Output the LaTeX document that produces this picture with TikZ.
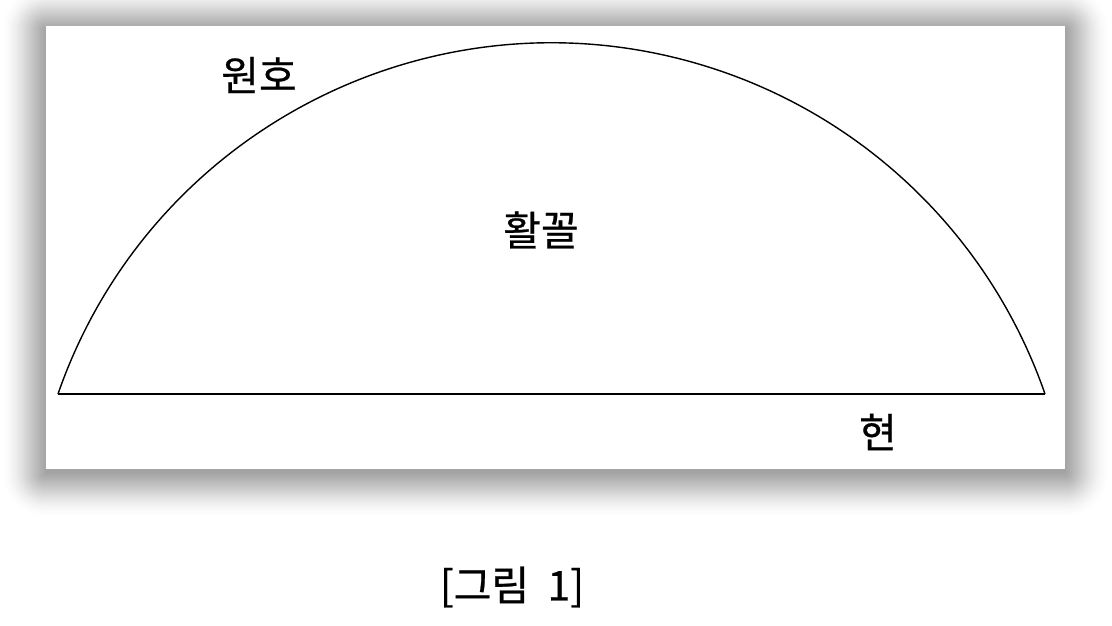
\documentclass[tikz,border=0pt]{standalone}
\usepackage{fontspec}
\newfontfamily\kr[FakeBold=0.6]{Noto Sans CJK KR}
\begin{document}
\begin{tikzpicture}[x=1pt,y=1pt,
  lbl/.style={font=\kr\fontsize{41}{44}\selectfont, inner sep=0pt, text=black},
  arcline/.style={line width=1.4pt, black},
  chordline/.style={line width=2.2pt, black}]
\useasboundingbox (0,0) rectangle (1112,626);
\fill[white] (0,0) rectangle (1112,626);
% soft shadow: opaque nested rounded rectangles, shadow rectangle (46,153)-(1065,596)
\foreach \r in {46,45,...,0}{
  \pgfmathsetmacro\t{\r/46}
  \pgfmathsetmacro\p{18*((1-\t)^2+1-3*\t^2+2*\t^3)}
  \fill[black!\p, rounded corners=\r pt] (46-\r,153-\r) rectangle (1065+\r,596+\r);
}
\fill[white] (46,157) rectangle (1065,600);
\coordinate (A) at (58,232);
\coordinate (B) at (1045,232);
\draw[chordline] (A) -- (B);
\draw[arcline] (A) arc[start angle=160.86, end angle=19.14, radius=522.4];
\node[lbl] (arc) at (259,551) {원호};
\node[lbl] (seg) at (541,396) {활꼴};
\node[lbl] (chord) at (878,194) {현};
\node[lbl] (cap) at (512,39) {[그림\ \ 1]};
\end{tikzpicture}
\end{document}
